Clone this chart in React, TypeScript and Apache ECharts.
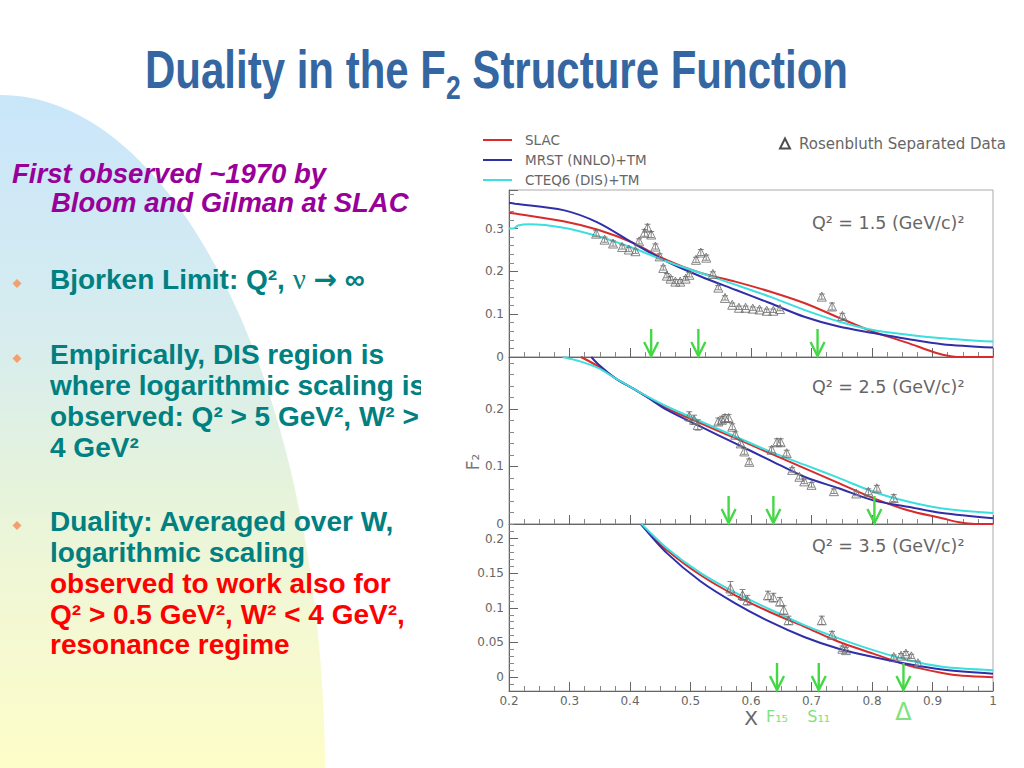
import React, { useEffect, useRef } from "react";
import * as echarts from "echarts";

// ---------- data ----------
const LEGEND_NAMES = ["SLAC", "MRST (NNLO)+TM", "CTEQ6 (DIS)+TM"];
const DATA_NAME = "Rosenbluth Separated Data";
const Q2_LABELS = ["Q² = 1.5 (GeV/c)²", "Q² = 2.5 (GeV/c)²", "Q² = 3.5 (GeV/c)²"];
const Y_RANGES = [
  [0, 0.39],
  [0, 0.29],
  [-0.02, 0.221],
];
const Y_STEPS: (number | undefined)[] = [0.1, 0.1, undefined];

// Panel 1 : Q2 = 1.5
const SLAC_1 = [
  [0.2, 0.337], [0.21, 0.335], [0.29, 0.317], [0.347, 0.297], [0.404, 0.267], [0.461, 0.226],
  [0.517, 0.196], [0.574, 0.176], [0.631, 0.153], [0.688, 0.126], [0.745, 0.092], [0.802, 0.059],
  [0.859, 0.033], [0.905, 0.01], [0.93, 0.002], [0.95, 0], [1.0, 0],
];
const MRST_1 = [
  [0.2, 0.36], [0.21, 0.358], [0.29, 0.343], [0.347, 0.314], [0.404, 0.267], [0.461, 0.223],
  [0.517, 0.188], [0.574, 0.157], [0.631, 0.126], [0.688, 0.094], [0.745, 0.071], [0.802, 0.056],
  [0.859, 0.042], [0.916, 0.03], [1.0, 0.022],
];
const CTEQ_1 = [
  [0.2, 0.3], [0.207, 0.3], [0.215, 0.307], [0.233, 0.31], [0.29, 0.302], [0.347, 0.282],
  [0.404, 0.255], [0.461, 0.223], [0.517, 0.196], [0.574, 0.169], [0.631, 0.141], [0.688, 0.11],
  [0.745, 0.083], [0.802, 0.063], [0.859, 0.052], [0.916, 0.044], [1.0, 0.036],
];
// [x, F2, error]
const DATA_1 = [
  [0.344, 0.288, 0.007], [0.358, 0.274, 0.006], [0.372, 0.265, 0.006], [0.387, 0.257, 0.005],
  [0.398, 0.251, 0.005], [0.409, 0.247, 0.005], [0.415, 0.27, 0.006], [0.424, 0.29, 0.008],
  [0.429, 0.302, 0.008], [0.435, 0.286, 0.007], [0.442, 0.258, 0.006], [0.449, 0.235, 0.006],
  [0.455, 0.208, 0.005], [0.461, 0.19, 0.005], [0.467, 0.183, 0.005], [0.475, 0.176, 0.005],
  [0.483, 0.176, 0.005], [0.492, 0.183, 0.005], [0.498, 0.192, 0.005], [0.509, 0.227, 0.006],
  [0.517, 0.244, 0.007], [0.526, 0.232, 0.006], [0.537, 0.194, 0.005], [0.546, 0.162, 0.005],
  [0.557, 0.138, 0.005], [0.569, 0.122, 0.004], [0.58, 0.115, 0.004], [0.591, 0.115, 0.004],
  [0.603, 0.113, 0.004], [0.614, 0.111, 0.004], [0.626, 0.108, 0.004], [0.637, 0.108, 0.004],
  [0.648, 0.112, 0.004], [0.717, 0.141, 0.006], [0.734, 0.118, 0.008], [0.751, 0.096, 0.006],
];
const ARROWS_1 = [0.435, 0.513, 0.71];

// Panel 2 : Q2 = 2.5
const SLAC_2 = [
  [0.319, 0.29], [0.347, 0.274], [0.376, 0.253], [0.404, 0.236], [0.426, 0.222], [0.461, 0.201],
  [0.517, 0.175], [0.574, 0.149], [0.631, 0.123], [0.688, 0.097], [0.745, 0.071], [0.802, 0.045],
  [0.859, 0.024], [0.916, 0.01], [0.944, 0.003], [0.97, 0], [1.0, 0],
];
const MRST_2 = [
  [0.336, 0.29], [0.347, 0.278], [0.376, 0.253], [0.404, 0.236], [0.426, 0.222], [0.461, 0.198],
  [0.517, 0.169], [0.574, 0.14], [0.631, 0.111], [0.688, 0.082], [0.745, 0.062], [0.802, 0.041],
  [0.859, 0.03], [0.916, 0.019], [1.0, 0.01],
];
const CTEQ_2 = [
  [0.289, 0.29], [0.319, 0.282], [0.347, 0.271], [0.376, 0.253], [0.404, 0.236], [0.426, 0.223],
  [0.461, 0.204], [0.517, 0.178], [0.574, 0.152], [0.631, 0.126], [0.688, 0.103], [0.745, 0.08],
  [0.802, 0.056], [0.859, 0.039], [0.916, 0.027], [1.0, 0.019],
];
const DATA_2 = [
  [0.498, 0.187, 0.008], [0.506, 0.181, 0.008], [0.512, 0.172, 0.009], [0.546, 0.178, 0.006],
  [0.552, 0.181, 0.006], [0.557, 0.184, 0.006], [0.563, 0.184, 0.006], [0.569, 0.169, 0.005],
  [0.574, 0.155, 0.005], [0.583, 0.14, 0.005], [0.589, 0.126, 0.005], [0.597, 0.108, 0.005],
  [0.634, 0.129, 0.005], [0.643, 0.142, 0.006], [0.649, 0.142, 0.006], [0.659, 0.123, 0.005],
  [0.668, 0.094, 0.004], [0.68, 0.082, 0.004], [0.688, 0.074, 0.004], [0.7, 0.068, 0.004],
  [0.737, 0.057, 0.004], [0.774, 0.053, 0.004], [0.794, 0.056, 0.005], [0.808, 0.062, 0.005],
  [0.836, 0.045, 0.006],
];
const ARROWS_2 = [0.563, 0.637, 0.804];

// Panel 3 : Q2 = 3.5
const SLAC_3 = [
  [0.418, 0.221], [0.461, 0.1835], [0.517, 0.147], [0.574, 0.118], [0.631, 0.094], [0.688, 0.073],
  [0.745, 0.051], [0.802, 0.034], [0.859, 0.017], [0.916, 0.006], [0.95, 0.002], [1.0, 0],
];
const MRST_3 = [
  [0.418, 0.221], [0.461, 0.179], [0.517, 0.138], [0.574, 0.1065], [0.631, 0.08], [0.688, 0.058],
  [0.745, 0.041], [0.802, 0.029], [0.859, 0.019], [0.916, 0.011], [1.0, 0.005],
];
const CTEQ_3 = [
  [0.418, 0.222], [0.461, 0.186], [0.517, 0.15], [0.574, 0.122], [0.631, 0.098], [0.688, 0.075],
  [0.745, 0.056], [0.802, 0.039], [0.859, 0.0246], [0.916, 0.015], [1.0, 0.01],
];
const DATA_3 = [
  [0.566, 0.128, 0.01], [0.586, 0.1185, 0.008], [0.594, 0.111, 0.007], [0.628, 0.118, 0.006],
  [0.637, 0.115, 0.006], [0.648, 0.109, 0.006], [0.654, 0.097, 0.006], [0.662, 0.082, 0.006],
  [0.717, 0.082, 0.006], [0.734, 0.061, 0.005], [0.751, 0.041, 0.004], [0.757, 0.039, 0.004],
  [0.836, 0.029, 0.003], [0.848, 0.031, 0.003], [0.856, 0.034, 0.003], [0.865, 0.03, 0.003],
  [0.876, 0.02, 0.003],
];
const ARROWS_3 = [0.643, 0.712, 0.852];
const ARROW_LABELS_3 = ["F₁₅", "S₁₁", "Δ"];

const SLAC = [SLAC_1, SLAC_2, SLAC_3];
const MRST = [MRST_1, MRST_2, MRST_3];
const CTEQ = [CTEQ_1, CTEQ_2, CTEQ_3];
const POINTS = [DATA_1, DATA_2, DATA_3];
const ARROWS = [ARROWS_1, ARROWS_2, ARROWS_3];

// ---------- styling ----------
const RED = "#d92b2b";
const BLUE = "#2f2fa8";
const CYAN = "#3ddede";
const GREEN = "#45d845";
const AX = "#666";
const PLOT_FONT = "DejaVu Sans";
const SLIDE_FONT = "Liberation Sans, Arial, sans-serif";
const TEAL = "#008080";
const PURPLE = "#990099";
const BRIGHT_RED = "#ff0000";
const TITLE_BLUE = "#3466a1";
const GRID_TOPS = [190, 357, 524];

function measure(text: string, font: string) {
  const ctx = document.createElement("canvas").getContext("2d");
  if (!ctx) return text.length * 20;
  ctx.font = font;
  return ctx.measureText(text).width;
}

function buildOption() {
  const grids = GRID_TOPS.map((t) => ({
    left: 509,
    width: 484,
    top: t,
    height: 167,
    show: true,
    borderColor: "#aaa",
    borderWidth: 1,
    backgroundColor: "transparent",
  }));

  const xAxes = [0, 1, 2].map((i) => ({
    gridIndex: i,
    type: "value",
    min: 0.2,
    max: 1,
    interval: 0.1,
    axisLine: { show: true, onZero: false, lineStyle: { color: AX, width: 1 } },
    axisTick: { show: true, inside: true, length: 9, lineStyle: { color: AX } },
    minorTick: { show: true, splitNumber: 4, length: 5, lineStyle: { color: "#888" } },
    splitLine: { show: false },
    axisLabel: { show: i === 2, color: AX, fontSize: 12, margin: 4, fontFamily: PLOT_FONT },
    name: i === 2 ? "X" : "",
    nameLocation: "middle",
    nameGap: 17,
    nameTextStyle: { color: AX, fontSize: 20, fontFamily: PLOT_FONT, lineHeight: 20 },
  }));

  const yAxes = [0, 1, 2].map((i) => ({
    gridIndex: i,
    type: "value",
    min: Y_RANGES[i][0],
    max: Y_RANGES[i][1],
    interval: Y_STEPS[i],
    splitNumber: 5,
    axisLine: { show: true, onZero: false, lineStyle: { color: AX, width: 1 } },
    axisTick: { show: true, inside: true, length: 9, lineStyle: { color: AX } },
    minorTick: { show: true, splitNumber: 5, length: 5, lineStyle: { color: "#888" } },
    splitLine: { show: false },
    axisLabel: {
      color: AX,
      fontSize: 12,
      margin: 5,
      fontFamily: PLOT_FONT,
      showMinLabel: i !== 2,
      showMaxLabel: false,
    },
  }));

  const series: any[] = [];
  [0, 1, 2].forEach((i) => {
    const curves: [string, number[][], string][] = [
      [LEGEND_NAMES[0], SLAC[i], RED],
      [LEGEND_NAMES[1], MRST[i], BLUE],
      [LEGEND_NAMES[2], CTEQ[i], CYAN],
    ];
    curves.forEach(([name, data, color]) => {
      series.push({
        type: "line",
        name,
        xAxisIndex: i,
        yAxisIndex: i,
        data,
        symbol: "none",
        showSymbol: false,
        smooth: 0.3,
        clip: true,
        lineStyle: { color, width: 2 },
        itemStyle: { color },
        z: 3,
      });
    });
    series.push({
      type: "custom",
      name: "errors" + i,
      xAxisIndex: i,
      yAxisIndex: i,
      data: POINTS[i],
      encode: { x: 0, y: 1 },
      silent: true,
      z: 4,
      renderItem: (params: any, api: any) => {
        const x = api.value(0);
        const y = api.value(1);
        const e = api.value(2);
        const p1 = api.coord([x, y + e]);
        const p2 = api.coord([x, y - e]);
        const st = { stroke: "#888", lineWidth: 1 };
        return {
          type: "group",
          children: [
            { type: "line", shape: { x1: p1[0], y1: p1[1], x2: p2[0], y2: p2[1] }, style: st },
            { type: "line", shape: { x1: p1[0] - 3, y1: p1[1], x2: p1[0] + 3, y2: p1[1] }, style: st },
            { type: "line", shape: { x1: p2[0] - 3, y1: p2[1], x2: p2[0] + 3, y2: p2[1] }, style: st },
          ],
        };
      },
    });
    series.push({
      type: "scatter",
      name: DATA_NAME,
      xAxisIndex: i,
      yAxisIndex: i,
      data: POINTS[i].map((d) => [d[0], d[1]]),
      symbol: "triangle",
      symbolSize: 9,
      itemStyle: { color: "rgba(0,0,0,0)", borderColor: "#666", borderWidth: 1 },
      z: 4,
    });
    series.push({
      type: "custom",
      name: "arrows" + i,
      xAxisIndex: i,
      yAxisIndex: i,
      data: ARROWS[i].map((x) => [x, Y_RANGES[i][0]]),
      encode: { x: 0, y: 1 },
      clip: false,
      silent: true,
      z: 5,
      renderItem: (params: any, api: any) => {
        const pt = api.coord([api.value(0), api.value(1)]);
        const x = pt[0];
        const tip = pt[1] - 1;
        const st = { stroke: GREEN, lineWidth: 2.4, fill: "none" };
        const children: any[] = [
          { type: "line", shape: { x1: x, y1: tip - 27, x2: x, y2: tip }, style: st },
          {
            type: "polyline",
            shape: { points: [[x - 7, tip - 14], [x, tip], [x + 7, tip - 14]] },
            style: st,
          },
        ];
        if (i === 2) {
          const label = ARROW_LABELS_3[params.dataIndex];
          const big = label === "Δ";
          children.push({
            type: "text",
            x,
            y: tip + (big ? 22 : 26),
            style: {
              text: label,
              fill: "#7ee27e",
              fontSize: big ? 24 : 16,
              lineHeight: big ? 22 : 14,
              fontFamily: PLOT_FONT,
              align: "center",
              verticalAlign: "middle",
              textAlign: "center",
              textVerticalAlign: "middle",
            },
          });
        }
        return { type: "group", children };
      },
    });
  });

  const txt = (x: number, y: number, text: string, extra: any, z = -2) => ({
    type: "text",
    x,
    y,
    z,
    style: {
      text,
      align: "left",
      verticalAlign: "middle",
      textAlign: "left",
      textVerticalAlign: "middle",
      ...extra,
    },
  });
  const bodyStyle = (fill: string) => ({
    fill,
    fontSize: 28,
    lineHeight: 29,
    fontWeight: "bold",
    fontFamily: SLIDE_FONT,
  });
  const purple = { ...bodyStyle(PURPLE), fontStyle: "italic", fontSize: 27.5, lineHeight: 26 };
  const diamond = (cy: number) => ({
    type: "polygon",
    z: -2,
    shape: { points: [[17, cy - 4.5], [21.5, cy], [17, cy + 4.5], [12.5, cy]] },
    style: { fill: "#f4a06e" },
  });

  // title: three pieces, horizontally condensed to the slide's width
  const TITLE_A = "Duality in the F";
  const TITLE_S = "2";
  const TITLE_B = " Structure Function";
  const mainFont = "bold 54px 'Liberation Sans'";
  const subFont = "bold 34px 'Liberation Sans'";
  const wA = measure(TITLE_A, mainFont);
  const wS = measure(TITLE_S, subFont);
  const wB = measure(TITLE_B, mainFont);
  const titleLeft = 145;
  const titleWidth = 703;
  const sx = titleWidth / (wA + wS + wB);
  const titlePiece = (x: number, y: number, text: string, size: number) => ({
    type: "text",
    x,
    y,
    z: 1,
    scaleX: sx,
    style: {
      text,
      fill: TITLE_BLUE,
      fontSize: size,
      fontWeight: "bold",
      fontFamily: "Liberation Sans",
      align: "left",
      verticalAlign: "middle",
      textAlign: "left",
      textVerticalAlign: "middle",
    },
  });

  const graphics: any[] = [
    {
      type: "ellipse",
      z: -3,
      shape: { cx: 0, cy: 775, rx: 325, ry: 680 },
      style: {
        fill: {
          type: "linear",
          x: 0,
          y: 95,
          x2: 0,
          y2: 768,
          global: true,
          colorStops: [
            { offset: 0, color: "#c9e6fa" },
            { offset: 0.35, color: "#d6ecef" },
            { offset: 0.58, color: "#e6f3dc" },
            { offset: 0.8, color: "#f5f9d2" },
            { offset: 1, color: "#fdfdc8" },
          ],
        },
      },
    },
    txt(12, 173, "First observed ~1970 by", purple),
    txt(51, 202, "Bloom and Gilman at SLAC", purple),
    diamond(283.5),
    txt(50, 279, "{a|Bjorken Limit: Q², }{n|ν}{a| }{r|→}{a| ∞}", {
      ...bodyStyle(TEAL),
      rich: {
        a: { ...bodyStyle(TEAL) },
        n: { fill: TEAL, fontSize: 29, lineHeight: 29, fontFamily: "Liberation Serif, serif" },
        r: { fill: TEAL, fontSize: 28, lineHeight: 29, fontWeight: "bold", fontFamily: "DejaVu Sans" },
      },
    }),
    diamond(358.5),
    txt(50, 354, "Empirically, DIS region is", bodyStyle(TEAL)),
    txt(50, 385, "where logarithmic scaling is", bodyStyle(TEAL)),
    txt(50, 416, "observed: Q² > 5 GeV², W² >", bodyStyle(TEAL)),
    txt(50, 447, "4 GeV²", bodyStyle(TEAL)),
    diamond(525.5),
    txt(50, 521, "Duality: Averaged over W,", bodyStyle(TEAL)),
    txt(50, 552, "logarithmic scaling", bodyStyle(TEAL)),
    txt(50, 583, "observed to work also for", bodyStyle(BRIGHT_RED)),
    txt(50, 614, "Q² > 0.5 GeV², W² < 4 GeV²,", bodyStyle(BRIGHT_RED)),
    txt(50, 644, "resonance regime", bodyStyle(BRIGHT_RED)),
    {
      type: "rect",
      z: -1,
      shape: { x: 421, y: 110, width: 603, height: 640 },
      style: { fill: "#ffffff" },
    },
    titlePiece(titleLeft, 88 - 0.35 * 54, TITLE_A, 54),
    titlePiece(titleLeft + wA * sx, 99 - 0.35 * 34, TITLE_S, 34),
    titlePiece(titleLeft + (wA + wS) * sx, 88 - 0.35 * 54, TITLE_B, 54),
    ...Q2_LABELS.map((t, i) =>
      txt(812, [223, 387, 546][i], t, { fill: "#666", fontSize: 17.5, fontFamily: PLOT_FONT }, 1)
    ),
    {
      type: "text",
      x: 473,
      y: 462,
      z: 1,
      rotation: Math.PI / 2,
      style: {
        text: "F₂",
        fill: "#777",
        fontSize: 17,
        fontFamily: PLOT_FONT,
        align: "center",
        verticalAlign: "middle",
        textAlign: "center",
        textVerticalAlign: "middle",
      },
    },
  ];

  return {
    animation: false,
    backgroundColor: "#ffffff",
    grid: grids,
    xAxis: xAxes,
    yAxis: yAxes,
    legend: [
      {
        data: LEGEND_NAMES,
        orient: "vertical",
        left: 478,
        top: 127,
        itemWidth: 29,
        itemHeight: 2,
        itemGap: 4,
        icon: "rect",
        selectedMode: false,
        textStyle: { color: "#666", fontSize: 13.5, fontFamily: PLOT_FONT, lineHeight: 16, padding: [0, 0, 0, 8] },
      },
      {
        data: [
          {
            name: DATA_NAME,
            icon: "triangle",
            itemStyle: { color: "rgba(0,0,0,0)", borderColor: "#222", borderWidth: 2 },
          },
        ],
        left: 774,
        top: 131,
        itemWidth: 10,
        itemHeight: 10,
        selectedMode: false,
        textStyle: { color: "#666", fontSize: 15, fontFamily: PLOT_FONT, padding: [0, 0, 0, 4] },
      },
    ],
    graphic: { elements: graphics },
    series,
  };
}

export default function App() {
  const ref = useRef<HTMLDivElement>(null);
  useEffect(() => {
    if (!ref.current) return;
    const chart = echarts.init(ref.current, null, { renderer: "svg" });
    chart.setOption(buildOption() as any);
    return () => chart.dispose();
  }, []);
  return (
    <div
      ref={ref}
      style={{ position: "fixed", left: 0, top: 0, width: 1024, height: 768, background: "#fff" }}
    />
  );
}
